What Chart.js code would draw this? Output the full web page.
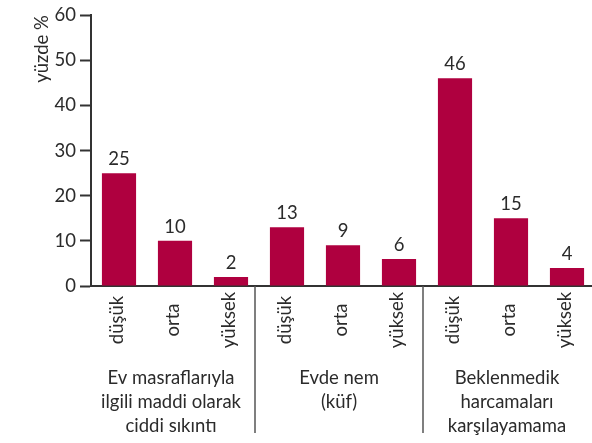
<!DOCTYPE html>
<html>
<head>
<meta charset="utf-8">
<script src="https://cdn.jsdelivr.net/npm/chart.js@4.4.1/dist/chart.umd.min.js"></script>
<style>
  html, body { margin: 0; padding: 0; background: #fff; overflow: hidden; }
  canvas { display: block; }
</style>
</head>
<body>
<canvas id="myChart" width="595" height="443"></canvas>
<script>
const categories = ['düşük', 'orta', 'yüksek', 'düşük', 'orta', 'yüksek', 'düşük', 'orta', 'yüksek'];
const values = [25, 10, 2, 13, 9, 6, 46, 15, 4];
const groupLabels = [
  ['Ev masraflarıyla', 'ilgili maddi olarak', 'ciddi sıkıntı'],
  ['Evde nem', '(küf)'],
  ['Beklenmedik', 'harcamaları', 'karşılayamama']
];
const yTicks = [0, 10, 20, 30, 40, 50, 60];

const FONT = 'Lato, "Liberation Sans", sans-serif';
const TEXT = '#2b2b2b';

// labels, separators and group names under the axis
const extras = {
  id: 'extras',
  afterDatasetsDraw(chart) {
    const ctx = chart.ctx;
    const x = chart.scales.x;
    const bottom = chart.chartArea.bottom;
    ctx.save();
    ctx.fillStyle = TEXT;
    ctx.font = '18.5px ' + FONT;

    // values above bars
    const meta = chart.getDatasetMeta(0);
    ctx.textAlign = 'center';
    ctx.textBaseline = 'alphabetic';
    meta.data.forEach((bar, i) => {
      ctx.fillText(String(values[i]), bar.x, bar.y - 8);
    });

    // rotated category names
    categories.forEach((c, i) => {
      ctx.save();
      ctx.translate(x.getPixelForValue(i) - 2, bottom + 34);
      ctx.rotate(-Math.PI / 2);
      ctx.textAlign = 'center';
      ctx.textBaseline = 'middle';
      ctx.fillText(c, 0, 0);
      ctx.restore();
    });

    // group separators
    ctx.strokeStyle = '#555';
    ctx.lineWidth = 1.5;
    [2, 5].forEach(i => {
      const sx = (x.getPixelForValue(i) + x.getPixelForValue(i + 1)) / 2 - 4;
      ctx.beginPath();
      ctx.moveTo(sx, bottom);
      ctx.lineTo(sx, bottom + 147);
      ctx.stroke();
    });

    // group names
    ctx.textAlign = 'center';
    ctx.textBaseline = 'alphabetic';
    groupLabels.forEach((lines, g) => {
      const cx = x.getPixelForValue(g * 3 + 1) - 4;
      lines.forEach((line, k) => {
        ctx.fillText(line, cx, bottom + 98 + k * 24);
      });
    });
    ctx.restore();
  }
};

new Chart(document.getElementById('myChart'), {
  type: 'bar',
  data: {
    labels: categories,
    datasets: [{
      data: values,
      backgroundColor: '#AF003F',
      barPercentage: 0.61,
      categoryPercentage: 1
    }]
  },
  options: {
    responsive: false,
    animation: false,
    layout: { padding: { top: 15, right: 0, bottom: 149, left: 0 } },
    plugins: {
      legend: { display: false },
      tooltip: { enabled: false }
    },
    scales: {
      x: {
        ticks: { display: false },
        grid: { display: false },
        border: { display: true, color: '#333', width: 2 }
      },
      y: {
        min: 0,
        max: 60,
        afterBuildTicks: (scale) => { scale.ticks = yTicks.map(v => ({ value: v })); },
        afterFit: (scale) => { scale.width = 91; },
        ticks: {
          color: TEXT,
          font: { family: FONT, size: 18.5 },
          padding: 4
        },
        grid: {
          drawOnChartArea: false,
          drawTicks: true,
          tickLength: 11,
          tickWidth: 2,
          tickColor: '#333'
        },
        border: { display: true, color: '#333', width: 2 },
        title: {
          display: true,
          text: 'yüzde %',
          align: 'end',
          color: TEXT,
          font: { family: FONT, size: 18.5 },
          padding: { top: 31, bottom: 0 }
        }
      }
    }
  },
  plugins: [extras]
});
</script>
</body>
</html>
